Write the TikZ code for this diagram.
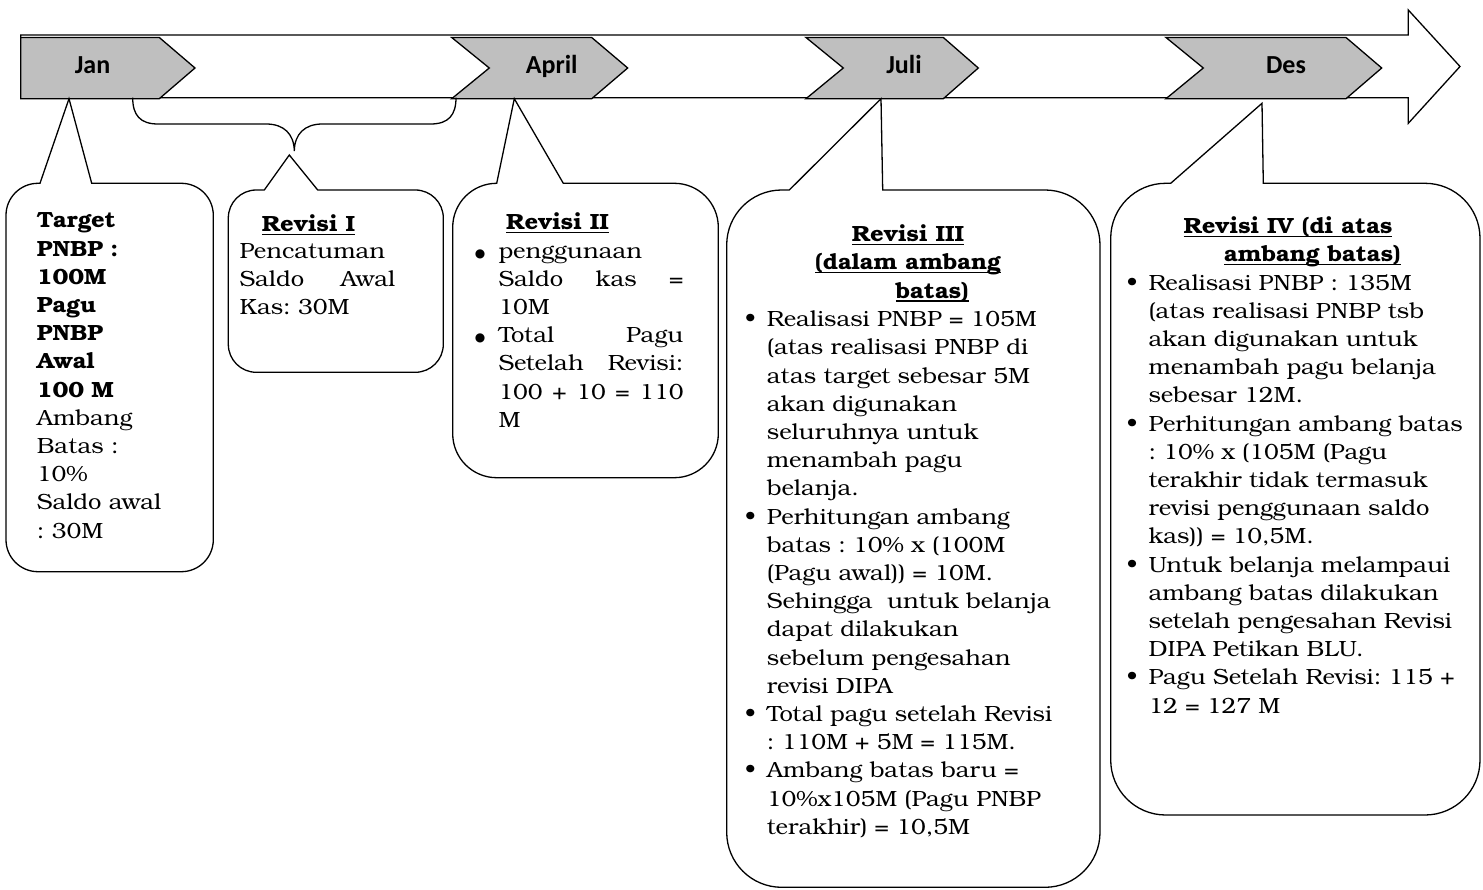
\documentclass[tikz,border=0pt]{standalone}
\usepackage{fontspec}
\setmainfont{texgyrebonum}[Extension=.otf, UprightFont=*-regular, BoldFont=*-bold, ItalicFont=*-italic, BoldItalicFont=*-bolditalic, FakeStretch=1.08]
\newfontfamily\labelfont{Carlito}
\newfontfamily\symfont{DejaVu Sans}
\definecolor{chevgray}{RGB}{191,191,191}
\setlength{\parindent}{0pt}
\frenchspacing

% underlined heading with the rule just under the baseline
\newsavebox{\hubox}
\newcommand{\huline}[1]{\sbox{\hubox}{#1}\rlap{\rule[-3.5pt]{\wd\hubox}{1.3pt}}\usebox{\hubox}}
% bullet hung in the left margin, centred in a box of width #1
\newcommand{\bul}[2]{\leavevmode\llap{\hbox to #1{\hss#2\hss}}}
\newcommand{\smallbul}{\bul{33pt}{\textbullet}}
\newcommand{\bigbul}{\bul{36.6pt}{\raisebox{1pt}{\symfont\fontsize{12}{12}\selectfont ●}}}
% justified line of a given width (words separated by \hfill)
\newcommand{\just}[2]{\leavevmode\hbox to #1{#2}}

% rounded callout: #1 left, #2 top, #3 right, #4 bottom, #5 corner radius,
% #6 pointer base left, (#7,#8) pointer tip, #9 pointer base right
\newcommand{\callout}[9]{%
  \pgfmathsetmacro{\cbRr}{#3-#5}\pgfmathsetmacro{\cbRk}{#3-#5+0.5523*#5}%
  \pgfmathsetmacro{\cbLr}{#1+#5}\pgfmathsetmacro{\cbLk}{#1+#5-0.5523*#5}%
  \pgfmathsetmacro{\cbTr}{#2+#5}\pgfmathsetmacro{\cbTk}{#2+#5-0.5523*#5}%
  \pgfmathsetmacro{\cbBr}{#4-#5}\pgfmathsetmacro{\cbBk}{#4-#5+0.5523*#5}%
  \draw[boxline] (#6,#2) -- (#7,#8) -- (#9,#2) -- (\cbRr,#2)
    .. controls (\cbRk,#2) and (#3,\cbTk) .. (#3,\cbTr) -- (#3,\cbBr)
    .. controls (#3,\cbBk) and (\cbRk,#4) .. (\cbRr,#4) -- (\cbLr,#4)
    .. controls (\cbLk,#4) and (#1,\cbBk) .. (#1,\cbBr) -- (#1,\cbTr)
    .. controls (#1,\cbTk) and (\cbLk,#2) .. (\cbLr,#2) -- cycle;
}

\tikzset{
  boxline/.style={draw, fill=white, line width=1.3pt, line join=miter},
  chev/.style={draw, fill=chevgray, line width=1.3pt, line join=miter},
  month/.style={font=\labelfont\bfseries\fontsize{26}{30}\selectfont, anchor=base, inner sep=0pt},
  head/.style={font=\bfseries\fontsize{22}{28.2}\selectfont, anchor=base west, inner sep=0pt},
  body/.style={font=\fontsize{22}{28.2}\selectfont, anchor=north west, inner sep=0pt,
               align=left, text width=400pt},
}

\begin{document}
\begin{tikzpicture}[x=1pt,y=-1pt]
\useasboundingbox (0,0) rectangle (1483,890);

% time line arrow
\draw[boxline] (20.7,35) -- (1408.3,35) -- (1408.3,10) -- (1460,66.5)
  -- (1408.3,123.3) -- (1408.3,97.7) -- (20.7,97.7) -- cycle;

% month chevrons
\draw[chev] (20.7,37.5) -- (159.3,37.5) -- (195,68) -- (159.3,98.7) -- (20.7,98.7) -- cycle;
\draw[chev] (451.7,37.5) -- (591.7,37.5) -- (627.7,68) -- (591.7,98.7) -- (451.7,98.7) -- (489.3,68) -- cycle;
\draw[chev] (806,37.5) -- (943.3,37.5) -- (978.3,68) -- (943.3,98.7) -- (806,98.7) -- (843.3,68) -- cycle;
\draw[chev] (1166,37.5) -- (1346,37.5) -- (1381.7,68) -- (1346,98.7) -- (1166,98.7) -- (1203.3,68) -- cycle;
\node[month] (jan) at (92.5,74) {Jan};
\node[month] (apr) at (551.7,74) {April};
\node[month] (jul) at (904,74) {Juli};
\node[month] (des) at (1286,74) {Des};

% brace spanning Jan to April
\draw[line width=1.3pt] (132.7,97.7) .. controls (132.7,115) and (140,124) .. (158,124) -- (266,124)
  .. controls (284,124) and (294,134) .. (294.3,151)
  .. controls (294.6,134) and (304.6,124) .. (322.6,124) -- (430.6,124)
  .. controls (448.6,124) and (456,115) .. (456,97.7);

% callouts
\callout{6}{183.3}{213.3}{571.7}{32}{40}{69}{98.7}{91.7}
\callout{228.3}{190}{443.3}{372.3}{28}{264.3}{289.3}{155}{317.7}
\callout{452.7}{183.3}{718.3}{477.7}{44}{496.7}{514.3}{98.7}{563.3}
\callout{726.7}{190}{1100}{887.3}{55}{789.3}{881}{98.7}{882.7}
\callout{1110.7}{183.3}{1480}{815}{55}{1170.7}{1262}{103.3}{1263.3}

% Jan
\node[body] (t1) at (36.7,207.96) {\strut\textbf{Target}\\
  \textbf{PNBP :}\\ \textbf{100M}\\ \textbf{Pagu}\\ \textbf{PNBP}\\ \textbf{Awal}\\
  \textbf{100 M}\\ Ambang\\ Batas :\\ 10\%\\ Saldo awal\\ : 30M};

% Revisi I
\node[head] (h2) at (261.7,231.7) {\huline{Revisi I}};
\node[body] (t2) at (239.3,238.56) {\strut Pencatuman\\
  \just{155.7pt}{Saldo\hfill Awal}\\ Kas: 30M};

% Revisi II
\node[head] (h3) at (506,230) {\huline{Revisi II}};
\node[body] (t3) at (498.3,238.26) {\strut\bigbul penggunaan\\
  \just{185pt}{Saldo\hfill kas\hfill =}\\ 10M\\
  \bigbul\just{185pt}{Total\hfill Pagu}\\
  \just{185pt}{Setelah\hfill Revisi:}\\
  \just{185pt}{100\hfill +\hfill 10\hfill =\hfill 110}\\ M};

% Revisi III
\node[head] (h4a) at (851.7,241.7) {\huline{Revisi III}};
\node[head] (h4b) at (815,270) {\huline{(dalam ambang}};
\node[head] (h4c) at (895.7,298.3) {\huline{batas)}};
\node[body] (t4) at (766.7,306.76) {\strut\smallbul Realisasi PNBP = 105M\\
  (atas realisasi PNBP di\\ atas target sebesar 5M\\ akan digunakan\\
  seluruhnya untuk\\ menambah pagu\\ belanja.\\
  \smallbul Perhitungan ambang\\ batas : 10\% x (100M\\ (Pagu awal)) = 10M.\\
  Sehingga\ \ untuk belanja\\ dapat dilakukan\\ sebelum pengesahan\\ revisi DIPA\\
  \smallbul Total pagu setelah Revisi\\ : 110M + 5M = 115M.\\
  \smallbul Ambang batas baru =\\ 10\%x105M (Pagu PNBP\\ terakhir) = 10,5M};

% Revisi IV
\node[head] (h5a) at (1183.3,234) {\huline{Revisi IV (di atas}};
\node[head] (h5b) at (1224,262) {\huline{ambang batas)}};
\node[body] (t5) at (1148.3,270.26) {\strut\smallbul Realisasi PNBP : 135M\\
  (atas realisasi PNBP tsb\\ akan digunakan untuk\\ menambah pagu belanja\\ sebesar 12M.\\
  \smallbul Perhitungan ambang batas\\ : 10\% x (105M (Pagu\\ terakhir tidak termasuk\\
  revisi penggunaan saldo\\ kas)) = 10,5M.\\
  \smallbul Untuk belanja melampaui\\ ambang batas dilakukan\\ setelah pengesahan Revisi\\
  DIPA Petikan BLU.\\
  \smallbul Pagu Setelah Revisi: 115 +\\ 12 = 127 M};
\end{tikzpicture}
\end{document}
